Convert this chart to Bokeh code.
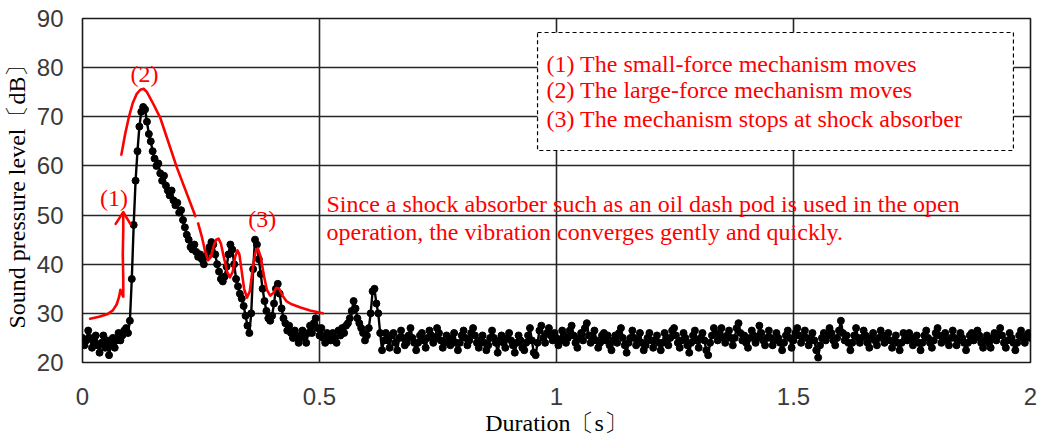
from bokeh.plotting import figure
from bokeh.models import FixedTicker, BoxAnnotation, Label, Range1d
from bokeh.embed import file_html
from bokeh.resources import INLINE

# ---- measured sound pressure level, sampled every 4 ms ----
SAMPLE_STEP = 0.004  # s
sound_level_db = [
    # 0.000 - 0.096 s : background
    25.0, 23.5, 24.5, 26.5, 25.0, 23.0, 24.5, 25.5, 23.5, 22.0,
    24.0, 25.5, 23.0, 24.5, 21.5, 23.5, 25.0, 23.0, 24.5, 26.0,
    24.5, 25.5, 26.5, 27.0, 26.0,
    # 0.100 - 0.244 s : large-force mechanism, rise and decay
    28.5, 37.0, 48.0, 57.0, 63.0, 68.0, 71.0, 72.0, 71.5, 69.0,
    66.5, 65.0, 63.0, 61.5, 60.0, 60.5, 58.5, 57.0, 58.0, 56.0,
    55.0, 54.0, 55.0, 53.0, 52.0, 52.5, 50.5, 51.0, 49.0, 47.5,
    46.0, 45.0, 43.5, 43.0, 44.0, 42.5, 41.5,
    # 0.248 - 0.640 s : shock absorber bounces
    42.0, 41.0, 40.0, 41.5, 42.5, 43.5, 44.5, 44.0, 42.0, 40.0,
    38.5, 37.0, 36.5, 37.5, 39.5, 42.0, 44.0, 43.0, 40.0, 37.0,
    35.5, 34.0, 33.0, 31.5, 29.5, 27.5, 26.0, 30.0, 39.0, 45.0,
    44.0, 41.0, 38.0, 35.0, 32.5, 30.5, 29.0, 28.5, 29.5, 32.0,
    35.0, 36.0, 34.0, 31.0, 29.0, 28.0, 26.5, 27.5, 26.0, 25.0,
    26.5, 25.0, 24.0, 25.5, 26.5, 25.0, 24.0, 26.0, 27.5, 26.0,
    28.0, 29.0, 27.0, 25.5, 27.0, 25.0, 24.0, 26.0, 25.0, 24.5,
    26.0, 25.0, 24.0, 26.5, 25.5, 27.0, 26.0, 27.5, 28.0, 29.0,
    30.5, 32.5, 31.0, 29.0, 28.0, 27.0, 26.0, 24.5, 25.5, 27.0,
    30.0, 34.5, 35.0, 32.0, 30.0, 26.0, 22.5, 24.5, 26.0,
    # 0.644 - 2.000 s : background
    24.5, 23.0, 25.5, 26.0, 24.0, 22.5, 25.0, 26.5, 25.0, 23.5,
    24.0, 25.5, 27.0, 25.0, 24.0, 22.5, 24.0, 25.5, 26.0, 24.5,
    23.0, 25.0, 26.5, 25.5, 24.0, 25.0, 27.0, 26.0, 24.5, 23.0,
    24.0, 25.5, 24.5, 23.5, 25.0, 26.0, 24.0, 22.5, 24.0, 25.5,
    26.5, 25.0, 23.5, 24.5, 26.0, 27.0, 25.5, 24.0, 23.0, 24.5,
    25.5, 24.0, 22.5, 23.5, 25.0, 26.5, 25.0, 24.0, 22.0, 24.5,
    25.5, 24.0, 23.0, 25.0, 26.0, 24.5, 23.5, 22.0, 24.0, 25.5,
    24.5, 23.0, 22.5, 24.0, 25.5, 27.0, 24.5, 22.0, 21.5, 24.0,
    26.5, 27.5, 25.0, 24.0, 26.0, 27.0, 25.5, 24.5, 26.0, 25.0,
    23.5, 24.5, 26.5, 25.5, 24.0, 25.0, 26.5, 27.5, 25.5, 24.0,
    23.0, 25.0, 26.0, 24.5, 27.0, 28.0, 25.5, 24.0, 25.0, 26.5,
    24.5, 23.0, 24.0, 25.5, 26.0, 24.5, 25.5, 23.5, 22.5, 24.5,
    25.5, 24.0, 26.0, 27.0, 25.0, 23.5, 22.0, 24.0, 25.0, 26.5,
    25.0, 23.5, 24.5, 26.0, 24.0, 22.5, 23.5, 25.0, 26.0, 24.5,
    23.0, 24.5, 25.5, 24.0, 22.5, 24.0, 26.0, 25.0, 23.5, 25.0,
    26.5, 27.0, 25.5, 24.0, 23.0, 24.5, 26.0, 25.0, 23.5, 22.0,
    24.0, 25.5, 26.5, 24.5, 23.0, 25.0, 26.0, 24.5, 22.5, 21.5,
    24.0, 25.5, 27.0, 26.0, 24.5, 25.5, 27.0, 25.0, 24.0, 25.5,
    26.5, 25.0, 23.5, 25.0, 27.0, 28.0, 26.0, 24.5, 25.5, 24.0,
    23.0, 25.0, 26.5, 25.5, 24.0, 25.0, 27.5, 26.0, 24.5, 23.5,
    25.0, 26.5, 25.0, 23.5, 24.5, 26.0, 25.0, 24.0, 22.5, 24.0,
    25.5, 26.5, 25.0, 23.0, 24.5, 26.0, 27.0, 25.5, 24.0, 25.0,
    26.5, 25.0, 23.5, 24.5, 26.0, 24.5, 22.5, 21.0, 23.5, 25.0,
    26.0, 24.5, 25.5, 27.0, 26.0, 24.5, 23.5, 25.0, 26.5, 28.5,
    26.0, 24.5, 25.5, 24.0, 22.5, 24.0, 25.5, 27.0, 25.0, 24.0,
    25.0, 26.5, 25.5, 24.0, 23.0, 25.0, 26.0, 24.5, 23.5, 25.0,
    26.5, 25.5, 24.0, 25.0, 26.0, 24.5, 23.0, 24.5, 25.5, 24.0,
    22.5, 24.0, 26.0, 25.0, 24.5, 26.0, 25.0, 23.5, 24.5, 25.5,
    24.0, 22.5, 24.0, 25.5, 26.5, 25.0, 24.0, 23.0, 24.5, 26.0,
    27.0, 25.5, 24.0, 25.0, 26.0, 24.5, 23.5, 25.0, 26.5, 25.0,
    23.5, 24.5, 26.0, 25.0, 24.0, 22.5, 24.0, 25.5, 26.0, 24.5,
    25.0, 26.5, 25.5, 24.0, 23.0, 24.5, 25.5, 24.0, 23.0, 25.0,
    26.0, 24.5, 25.5, 27.0, 25.5, 24.0, 23.0, 24.5, 26.0, 25.0,
    24.0, 22.5, 24.0, 25.5, 26.5, 25.0, 24.0, 25.5, 26.0, 25.0,
]
time_s = [i * SAMPLE_STEP for i in range(len(sound_level_db))]

# ---- hand-drawn red sketch over the measurement ----
sketch_rise_t = [0.016, 0.035, 0.052, 0.064, 0.072, 0.077, 0.080, 0.083, 0.086, 0.086, 0.085, 0.086, 0.086]
sketch_rise_db = [28.9, 29.3, 29.8, 30.6, 31.8, 33.3, 34.8, 34.0, 33.4, 37.0, 42.0, 47.0, 50.4]
arrow_head_t = [0.070, 0.086, 0.101]
arrow_head_db = [48.2, 50.6, 48.2]

sketch_peak_t = [0.082, 0.090, 0.098, 0.106, 0.114, 0.122, 0.129, 0.136, 0.150, 0.164, 0.199, 0.238]
sketch_peak_db = [62.3, 66.5, 70.0, 72.8, 74.6, 75.5, 75.7, 75.0, 72.5, 69.8, 59.7, 49.8]

sketch_bounce_t = [0.244, 0.252, 0.259, 0.265, 0.271, 0.277, 0.282, 0.287, 0.292, 0.298,
                   0.305, 0.311, 0.317, 0.322, 0.327, 0.331, 0.336, 0.341, 0.347, 0.353,
                   0.359, 0.365, 0.370, 0.376, 0.382, 0.389, 0.396, 0.403, 0.409, 0.415,
                   0.422, 0.430, 0.440, 0.460, 0.480, 0.507]
sketch_bounce_db = [48.3, 45.5, 42.5, 40.8, 41.5, 43.8, 45.0, 45.2, 44.2, 41.5,
                    38.5, 37.3, 38.5, 41.5, 42.8, 42.0, 38.5, 35.0, 33.2, 34.5,
                    39.0, 42.5, 43.2, 41.5, 38.0, 34.8, 33.6, 34.2, 35.2, 35.0,
                    33.6, 32.5, 31.9, 31.2, 30.6, 30.0]

x_ticks = [0, 0.5, 1, 1.5, 2]
x_tick_labels = ["0", "0.5", "1", "1.5", "2"]
y_ticks = [20, 30, 40, 50, 60, 70, 80, 90]

legend_lines = [
    "(1) The small-force mechanism moves",
    "(2) The large-force mechanism moves",
    "(3) The mechanism stops at shock absorber",
]
note_lines = [
    "Since a shock absorber such as an oil dash pod is used in the open",
    "operation, the vibration converges gently and quickly.",
]

SERIF = "Liberation Serif"
RED = "#ff0000"
TEXT_SIZE = "24px"

p = figure(width=1038, height=439, output_backend="svg", toolbar_location=None,
           x_range=Range1d(0, 2), y_range=Range1d(20, 90),
           min_border_left=82, min_border_right=8, min_border_top=18, min_border_bottom=77)
p.background_fill_color = "white"
p.border_fill_color = "white"
p.outline_line_color = "#1a1a1a"
p.outline_line_width = 1.6

# axes
p.xaxis.ticker = FixedTicker(ticks=x_ticks)
p.xaxis.major_label_overrides = {t: s for t, s in zip(x_ticks, x_tick_labels)}
p.yaxis.ticker = FixedTicker(ticks=y_ticks)
for ax in (p.xaxis[0], p.yaxis[0]):
    ax.axis_line_color = None
    ax.major_tick_line_color = None
    ax.minor_tick_line_color = None
    ax.major_tick_out = 0
    ax.major_tick_in = 0
    ax.minor_tick_out = 0
    ax.minor_tick_in = 0
    ax.major_label_text_font = "Liberation Sans"
    ax.major_label_text_font_size = "24px"
    ax.major_label_text_color = "#3a3a3a"
    ax.axis_label_text_font = SERIF
    ax.axis_label_text_font_style = "normal"
    ax.axis_label_text_font_size = "24px"
    ax.axis_label_text_color = "black"
p.xaxis.axis_label = "Duration〔s〕"
p.xaxis.major_label_standoff = 25
p.xaxis.axis_label_standoff = 2
p.yaxis.axis_label = "Sound pressure level〔dB〕"
p.yaxis.major_label_standoff = 19
p.yaxis.axis_label_standoff = 4

# grid
p.xgrid.grid_line_color = "#262626"
p.xgrid.grid_line_width = 1.6
p.ygrid.grid_line_color = "#262626"
p.ygrid.grid_line_width = 1.6

# measured trace
p.line(time_s, sound_level_db, line_color="black", line_width=2.4)
p.scatter(time_s, sound_level_db, size=7, fill_color="black", line_color="black")

# red sketch
for xs, ys in ((sketch_rise_t, sketch_rise_db), (arrow_head_t, arrow_head_db),
               (sketch_peak_t, sketch_peak_db), (sketch_bounce_t, sketch_bounce_db)):
    p.line(xs, ys, line_color=RED, line_width=2.6, line_join="round", line_cap="round")

# phase markers
for txt, tx, ty in (("(1)", 0.0665, 53.5), ("(2)", 0.1308, 78.8), ("(3)", 0.379, 49.1)):
    p.add_layout(Label(x=tx, y=ty, text=txt, text_align="center", text_baseline="alphabetic",
                       text_font=SERIF, text_font_size=TEXT_SIZE, text_color=RED))

# explanatory note
for txt, ty in zip(note_lines, (52.2, 46.55)):
    p.add_layout(Label(x=0.5148, y=ty, text=txt, text_align="left", text_baseline="alphabetic",
                       text_font=SERIF, text_font_size=TEXT_SIZE, text_color=RED))

# legend box
p.add_layout(BoxAnnotation(left=0.96, right=1.964, bottom=63.14, top=87.15,
                           fill_color="white", fill_alpha=1.0, line_color="black",
                           line_alpha=1.0, line_width=1.2, line_dash="4 3"))
for txt, ty in zip(legend_lines, (80.7, 75.45, 69.65)):
    p.add_layout(Label(x=0.979, y=ty, text=txt, text_align="left", text_baseline="alphabetic",
                       text_font=SERIF, text_font_size=TEXT_SIZE, text_color=RED))

open("out.html", "w").write(file_html(p, INLINE))
